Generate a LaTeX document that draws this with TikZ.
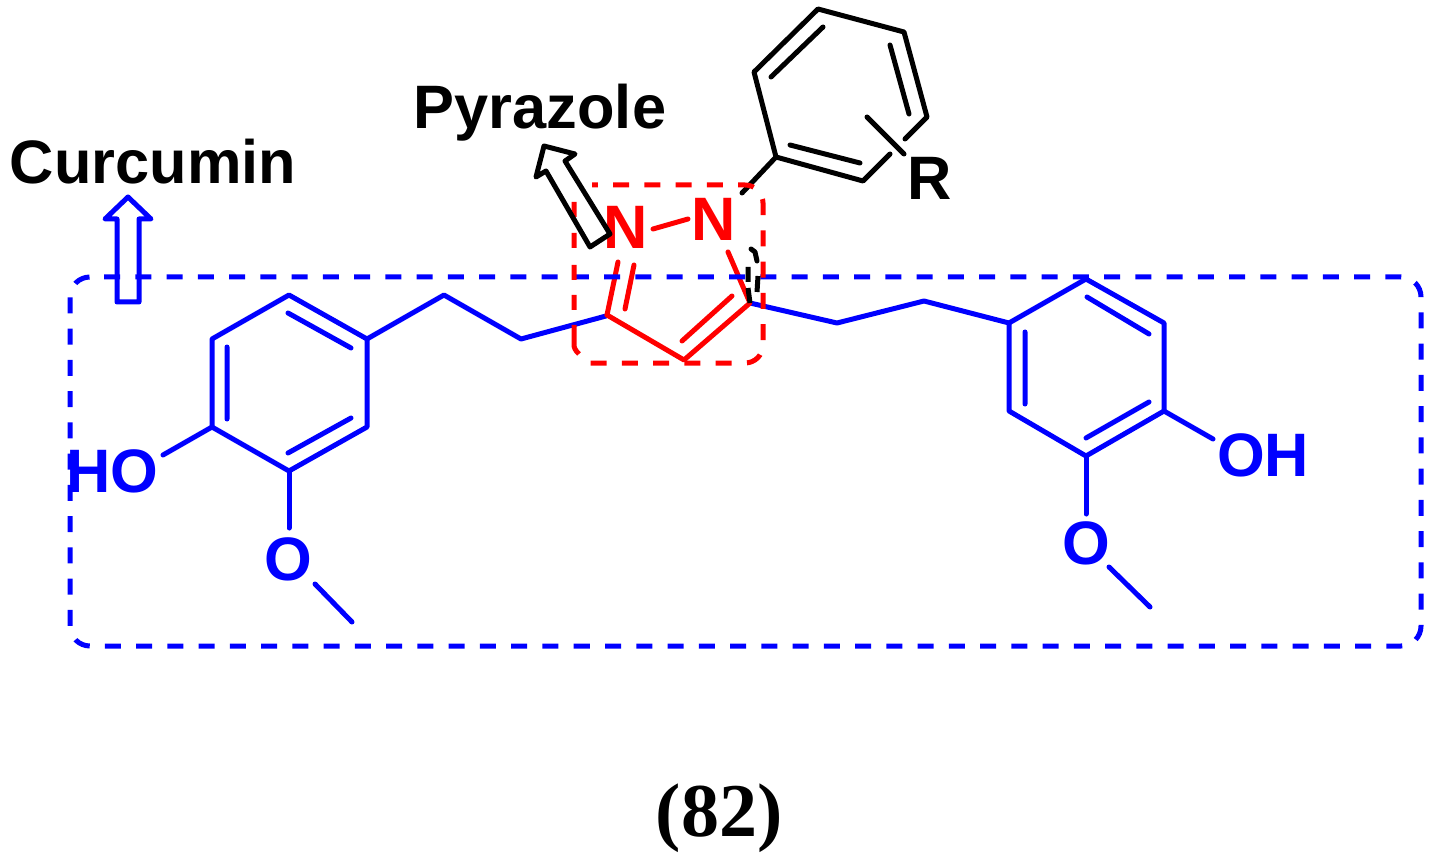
\documentclass[tikz,border=0pt]{standalone}
\usepackage{fontspec}
\setmainfont{Liberation Sans}
\newfontfamily\serifbold{Liberation Serif}[BoldFont={Liberation Serif Bold}]
\definecolor{cblue}{RGB}{0,0,255}
\definecolor{cred}{RGB}{255,0,0}
\tikzset{
  px/.style={x=0.75pt,y=-0.75pt},
  bondb/.style={draw=cblue,line width=3.75pt,line join=round,line cap=round},
  bondr/.style={draw=cred,line width=3.75pt,line join=round,line cap=round},
  bondk/.style={draw=black,line width=3.75pt,line join=round,line cap=round},
  dashb/.style={draw=cblue,line width=3.75pt,dash pattern=on 12pt off 11.4375pt,dash phase=12.9375pt},
  dashr/.style={draw=cred,line width=3.75pt,dash pattern=on 12pt off 11.4375pt,dash phase=7.6875pt},
  plainr/.style={draw=cred,line width=3.75pt},
  atomb/.style={text=cblue,font=\bfseries\fontsize{46}{46}\selectfont,inner sep=0pt,anchor=base},
  atomr/.style={text=cred,font=\bfseries\fontsize{46}{46}\selectfont,inner sep=0pt,anchor=base},
  lab/.style={text=black,font=\bfseries\fontsize{46}{46}\selectfont,inner sep=0pt,anchor=base},
}
\begin{document}
\begin{tikzpicture}[px]
\useasboundingbox (0,0) rectangle (1437,855);
% text
\node[lab] (pyr) at (540,128.5) {Pyrazole};
\node[lab] (cur) at (153,184) {Curcumin};
\node[lab] (rr) at (930,200) {R};
\node[font=\serifbold\bfseries\fontsize{57}{57}\selectfont,inner sep=0pt,anchor=base] (num) at (719,836) {(82)};
% phenyl (black)
\coordinate (p1) at (776,157);
\coordinate (p2) at (754,72);
\coordinate (p3) at (818,9);
\coordinate (p4) at (904,32);
\coordinate (p5) at (927,117);
\coordinate (p6) at (863,181);
\draw[bondk] (890,154)--(p6)--(p1)--(p2)--(p3)--(p4)--(p5)--(905,139);
\draw[bondk] (771,77)--(823,27) (890,45)--(909,114) (860,163)--(790,145);
\draw[bondk] (867,117)--(904,154);
\draw[bondk] (p1)--(742,193);
% Left ring
\coordinate (a1) at (367,339);
\coordinate (a2) at (289,295);
\coordinate (a3) at (212,339);
\coordinate (a4) at (212,427);
\coordinate (a5) at (289,471);
\coordinate (a6) at (367,427);
\draw[bondb] (a1)--(a2)--(a3)--(a4)--(a5)--(a6)--cycle;
\draw[bondb] (288,313)--(351,348) (227,347)--(227,419) (351,418)--(288,453);
\draw[bondb] (a1)--(444,295)--(521,339)--(606,316);
\draw[bondb] (a4)--(163,455);
\draw[bondb] (a5)--(289,528);
\draw[bondb] (315,584)--(352,622);
\node[atomb] (ho) at (112,492.5) {HO};
\node[atomb] (ol) at (288,580) {O};
% Right ring
\coordinate (b1) at (1009,323);
\coordinate (b2) at (1086,279);
\coordinate (b3) at (1164,323);
\coordinate (b4) at (1164,411);
\coordinate (b5) at (1086,456);
\coordinate (b6) at (1009,411);
\draw[bondb] (b1)--(b2)--(b3)--(b4)--(b5)--(b6)--cycle;
\draw[bondb] (1087,297)--(1149,334) (1025,332)--(1025,404) (1149,402)--(1086,438);
\draw[bondb] (b1)--(924,301)--(837,323)--(750,303);
\draw[bondb] (b4)--(1213,439);
\draw[bondb] (b5)--(1086,514);
\draw[bondb] (1109,567)--(1150,607);
\node[atomb] (oh) at (1263,476.5) {OH};
\node[atomb] (or) at (1086,564) {O};
% Pyrazole
\coordinate (c1) at (607,315);
\coordinate (c2) at (684,360);
\coordinate (c3) at (750,303);
\draw[bondr] (c1)--(c2)--(c3)--(728,252);
\draw[bondr] (c1)--(618,262) (625,309)--(634,265);
\draw[bondr] (682,341)--(732,296);
\draw[bondr] (653,229)--(688,219);
\node[atomr] (n1) at (626,249) {N};
\node[atomr] (n2) at (714,241) {N};
% dashed boxes
\draw[dashb,rounded corners=15pt] (90,277) -- (1421,277) -- (1421,646) -- (70,646) -- (70,277) -- (90,277);
\draw[dashr,rounded corners=13.5pt] (592,185) -- (763,185) -- (763,363) -- (590,363);
\draw[plainr] (579,354) .. controls (575,350) and (574,348) .. (574,344) -- (574,325)
  (574,310)--(574,295) (574,280)--(574,265) (574,248)--(574,233) (574,217)--(574,202);
% black stray dashes
\draw[bondk] (751,249)--(755,252)--(757,261);
\draw[draw=black,line width=3.75pt] (748,267)--(748,282) (748,288)--(750,303) (758,276)--(757,292);
% blue hollow arrow
\draw[bondb] (117,302)--(139,302)--(139,219)--(151,219)--(128,197)--(105,219)--(117,219)--cycle;
% black hollow arrow
\draw[bondk] (590,247)--(610,234)--(565,161)--(575,154)--(544,146)--(536,177)--(546,171)--cycle;
\end{tikzpicture}
\end{document}
